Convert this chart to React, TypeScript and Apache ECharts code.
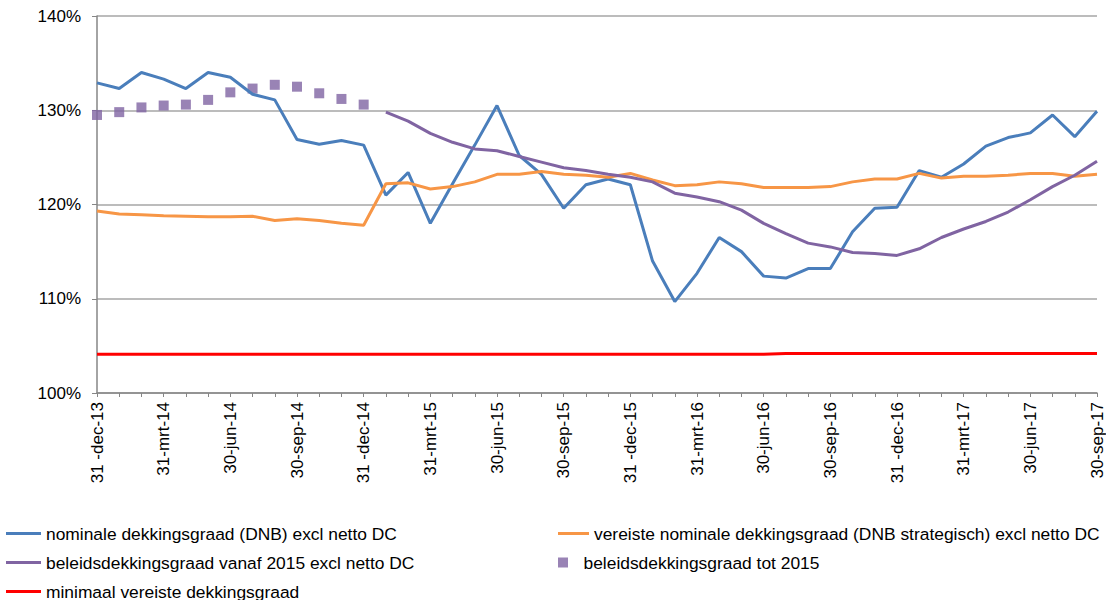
import React, { useEffect, useRef } from "react";
import * as echarts from "echarts";

const categories = [
  "31 -dec-13", "31-jan-14", "28-feb-14", "31-mrt-14", "30-apr-14", "31-mei-14",
  "30-jun-14", "31-jul-14", "31-aug-14", "30-sep-14", "31-okt-14", "30-nov-14",
  "31 -dec-14", "31-jan-15", "28-feb-15", "31-mrt-15", "30-apr-15", "31-mei-15",
  "30-jun-15", "31-jul-15", "31-aug-15", "30-sep-15", "31-okt-15", "30-nov-15",
  "31 -dec-15", "31-jan-16", "29-feb-16", "31-mrt-16", "30-apr-16", "31-mei-16",
  "30-jun-16", "31-jul-16", "31-aug-16", "30-sep-16", "31-okt-16", "30-nov-16",
  "31 -dec-16", "31-jan-17", "28-feb-17", "31-mrt-17", "30-apr-17", "31-mei-17",
  "30-jun-17", "31-jul-17", "31-aug-17", "30-sep-17",
];

const nominale = [
  132.9, 132.3, 134.0, 133.3, 132.3, 134.0, 133.5, 131.7, 131.1, 126.9, 126.4, 126.8, 126.3,
  121.0, 123.4, 118.0, 122.2, 126.3, 130.5, 125.2, 123.2, 119.6, 122.1, 122.7, 122.1,
  114.0, 109.7, 112.7, 116.5, 115.0, 112.4, 112.2, 113.2, 113.2, 117.1, 119.6, 119.7,
  123.6, 122.9, 124.3, 126.2, 127.1, 127.6, 129.5, 127.2, 129.9,
];

const vereiste = [
  119.3, 119.0, 118.9, 118.8, 118.75, 118.7, 118.7, 118.75, 118.3, 118.5, 118.3, 118.0, 117.8,
  122.2, 122.3, 121.65, 121.9, 122.4, 123.2, 123.2, 123.5, 123.2, 123.1, 122.9, 123.3,
  122.6, 122.0, 122.1, 122.4, 122.2, 121.8, 121.8, 121.8, 121.9, 122.4, 122.7, 122.7,
  123.3, 122.8, 123.0, 123.0, 123.1, 123.3, 123.3, 123.0, 123.2,
];

const beleidsVanaf2015 = [
  null, null, null, null, null, null, null, null, null, null, null, null, null,
  129.8, 128.85, 127.55, 126.6, 125.9, 125.7, 125.1, 124.5, 123.9, 123.6, 123.2, 122.9,
  122.4, 121.2, 120.8, 120.3, 119.4, 118.0, 116.9, 115.9, 115.5, 114.9, 114.8, 114.6,
  115.3, 116.5, 117.4, 118.2, 119.2, 120.5, 121.9, 123.1, 124.6,
];

const beleidsTot2015 = [
  129.5, 129.8, 130.3, 130.5, 130.6, 131.1, 131.9, 132.3, 132.7, 132.5, 131.8, 131.2, 130.6,
  null, null, null, null, null, null, null, null, null, null, null, null,
  null, null, null, null, null, null, null, null, null, null, null, null,
  null, null, null, null, null, null, null, null, null,
];

const minimaal = [
  104.1, 104.1, 104.1, 104.1, 104.1, 104.1, 104.1, 104.1, 104.1, 104.1, 104.1, 104.1, 104.1,
  104.1, 104.1, 104.1, 104.1, 104.1, 104.1, 104.1, 104.1, 104.1, 104.1, 104.1, 104.1,
  104.1, 104.1, 104.1, 104.1, 104.1, 104.1, 104.2, 104.2, 104.2, 104.2, 104.2, 104.2,
  104.2, 104.2, 104.2, 104.2, 104.2, 104.2, 104.2, 104.2, 104.2,
];

const names = [
  "nominale dekkingsgraad (DNB) excl netto DC",
  "vereiste nominale dekkingsgraad (DNB strategisch) excl netto DC",
  "beleidsdekkingsgraad vanaf 2015 excl netto DC",
  "beleidsdekkingsgraad tot 2015",
  "minimaal vereiste dekkingsgraad",
];

const colors = ["#4A7EBB", "#F79646", "#8064A2", "#8064A2", "#FF0000"];

const FONT = "'Liberation Sans', Arial, sans-serif";
const FS = 17;
const LEGEND_FS = 17.4;

export default function App() {
  const ref = useRef<HTMLDivElement>(null);
  useEffect(() => {
    if (!ref.current) return;
    const chart = echarts.init(ref.current, null, { renderer: "svg" });
    const legendText = { fontFamily: FONT, fontSize: LEGEND_FS, color: "#000" };
    const lineLegend = (i: number, left: number, top: number, w: number) => ({
      show: true,
      data: [{ name: names[i], icon: "rect" }],
      left,
      top,
      padding: 0,
      itemWidth: w,
      itemHeight: 3,
      itemGap: 0,
      textStyle: legendText,
      selectedMode: false,
    });
    chart.setOption({
      animation: false,
      backgroundColor: "#fff",
      grid: { left: 97, right: 9, top: 16, bottom: 207, containLabel: false },
      xAxis: {
        type: "category",
        data: categories,
        boundaryGap: false,
        axisLine: { lineStyle: { color: "#868686", width: 1.5 } },
        axisTick: { show: true, interval: 0, length: 4, lineStyle: { color: "#868686", width: 1 } },
        axisLabel: {
          interval: 2,
          rotate: 90,
          margin: 9,
          fontFamily: FONT,
          fontSize: FS,
          color: "#000",
        },
        splitLine: { show: false },
      },
      yAxis: {
        type: "value",
        min: 100,
        max: 140,
        interval: 10,
        axisLine: { show: true, lineStyle: { color: "#868686", width: 1.5 } },
        axisTick: { show: true, length: 5, lineStyle: { color: "#868686", width: 1 } },
        axisLabel: {
          formatter: (v: number) => v + "%",
          margin: 16,
          fontFamily: FONT,
          fontSize: FS,
          color: "#000",
        },
        splitLine: { show: true, lineStyle: { color: "#A6A6A6", width: 1.5 } },
      },
      legend: [
        lineLegend(0, 6, 525, 35),
        lineLegend(2, 6, 554, 35),
        lineLegend(4, 6, 583, 35),
        lineLegend(1, 558, 525, 31),
        {
          show: true,
          data: [{ name: names[3], icon: "path://M0,0L10,0L10,10L0,10Z" }],
          left: 558,
          top: 554,
          padding: 0,
          itemWidth: 31,
          itemHeight: 10,
          symbolKeepAspect: true,
          textStyle: legendText,
          selectedMode: false,
        },
      ],
      series: [
        {
          name: names[0],
          type: "line",
          data: nominale,
          symbol: "none",
          lineStyle: { color: colors[0], width: 3 },
          itemStyle: { color: colors[0] },
        },
        {
          name: names[1],
          type: "line",
          data: vereiste,
          symbol: "none",
          lineStyle: { color: colors[1], width: 3 },
          itemStyle: { color: colors[1] },
        },
        {
          name: names[2],
          type: "line",
          data: beleidsVanaf2015,
          symbol: "none",
          connectNulls: false,
          lineStyle: { color: colors[2], width: 3 },
          itemStyle: { color: colors[2] },
        },
        {
          name: names[3],
          type: "scatter",
          data: beleidsTot2015,
          symbol: "rect",
          symbolSize: 10,
          itemStyle: { color: colors[3] },
        },
        {
          name: names[4],
          type: "line",
          data: minimaal,
          symbol: "none",
          lineStyle: { color: colors[4], width: 3 },
          itemStyle: { color: colors[4] },
        },
      ],
    });
    return () => chart.dispose();
  }, []);
  return (
    <div
      ref={ref}
      style={{ position: "fixed", left: 0, top: 0, width: 1106, height: 600, background: "#fff" }}
    />
  );
}
